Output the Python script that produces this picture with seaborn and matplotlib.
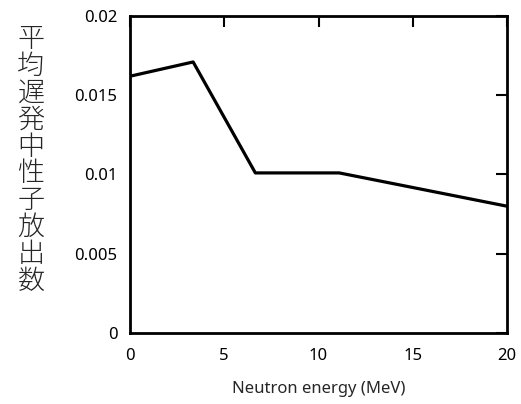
import matplotlib
matplotlib.use("Agg")
import matplotlib.pyplot as plt
import seaborn as sns
import pandas as pd

energy = [0.0, 3.35, 6.65, 11.1, 20.0]
yield_vals = [0.0162, 0.0171, 0.0101, 0.0101, 0.0080]
xticks = [0, 5, 10, 15, 20]
yticks = [0, 0.005, 0.01, 0.015, 0.02]
yticklabels = ["0", "0.005", "0.01", "0.015", "0.02"]
xlabel = "Neutron energy (MeV)"
ylabel = "平均遅発中性子放出数"

sns.set_style("white")
plt.rcParams['font.family'] = ['Noto Sans', 'Noto Sans CJK JP', 'DejaVu Sans']

df = pd.DataFrame({"E": energy, "n": yield_vals})
fig = plt.figure(figsize=(5.21, 4.04), dpi=100)
ax = fig.add_axes([130/521, 1-333/404, (507-130)/521, (333-16)/404])
sns.lineplot(data=df, x="E", y="n", ax=ax, color="black", linewidth=2.3)
ax.set_xlim(0, 20)
ax.set_ylim(0, 0.02)
ax.set_xticks(xticks)
ax.set_xticklabels([str(t) for t in xticks])
ax.set_yticks(yticks)
ax.set_yticklabels(yticklabels)
ax.tick_params(direction="in", length=8, width=1.5, top=True, right=True,
               labelsize=12, colors="black")
ax.tick_params(axis="x", pad=11)
ax.tick_params(axis="y", pad=9)
for s in ax.spines.values():
    s.set_linewidth(2)
    s.set_color("black")
ax.set_xlabel(xlabel, fontsize=12, labelpad=12)
ax.set_ylabel("")
fig.text(31/521, 1-160/404, "\n".join(ylabel), fontsize=19.5, ha="center", va="center",
         family=['Noto Sans CJK JP', 'DejaVu Sans'], fontweight="light", linespacing=0.95)
fig.savefig("out.png", dpi=100)
